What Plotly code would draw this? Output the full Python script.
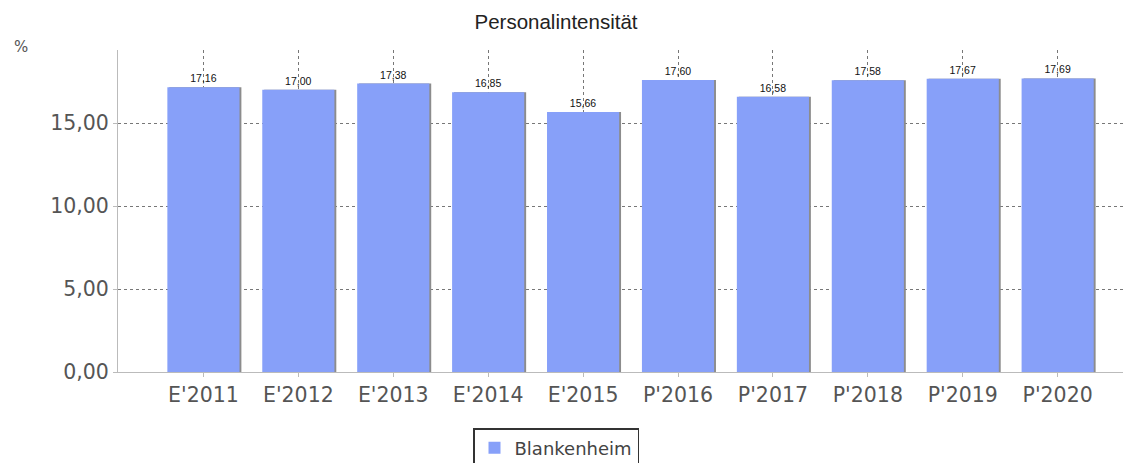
import plotly.graph_objects as go

categories = ["E'2011", "E'2012", "E'2013", "E'2014", "E'2015",
              "P'2016", "P'2017", "P'2018", "P'2019", "P'2020"]
values = [17.16, 17.00, 17.38, 16.85, 15.66, 17.60, 16.58, 17.58, 17.67, 17.69]
series_name = "Blankenheim"
y_ticks = [0, 5, 10, 15]

# page body has an 8px margin, so figure coords = screen coords - 8
OFF = 8
W, H = 1131, 463
L, R, T = 118 - OFF, 13, 50 - OFF
B = H - (372 - OFF)
PW = W - L - R
PH = H - T - B

def px(x):
    return (x - OFF - L) / PW

def py(y):
    return (H - B - (y - OFF)) / PH

fig = go.Figure()
# shadow
fig.add_trace(go.Bar(x=categories, y=values, width=0.76, offset=-0.36,
                     marker=dict(color="#8c8c8c", line=dict(width=0)),
                     showlegend=False, hoverinfo="skip"))
fig.add_trace(go.Bar(x=categories, y=values, width=0.76, offset=-0.38,
                     name=series_name,
                     marker=dict(color="#87a0f9", line=dict(width=0)),
                     texttemplate="%{y:.2f}", textposition="outside",
                     textfont=dict(family="Liberation Sans, Arial", size=10.5, color="#111"),
                     cliponaxis=False))

fig.update_layout(
    width=W, height=H,
    barmode="overlay",
    separators=",.",
    paper_bgcolor="white", plot_bgcolor="white",
    margin=dict(l=L, r=R, t=T, b=B, autoexpand=False),
    title=dict(text="Personalintensität", x=(556 - OFF) / W, xref="container", xanchor="center",
               y=1 - (22 - OFF) / H, yanchor="middle",
               font=dict(family="Liberation Sans, Arial", size=20.5, color="#222")),
    font=dict(family="DejaVu Sans, Verdana", color="#555"),
    xaxis=dict(range=[-0.9, 9.72], showgrid=True, gridcolor="#777", griddash="3px,3px",
               gridwidth=1, showline=True, linecolor="#bbb", linewidth=1,
               ticks="outside", ticklen=4, tickcolor="#bbb", automargin=False,
               tickfont=dict(size=20.5, color="#555")),
    yaxis=dict(range=[0, 19.4], tickvals=y_ticks, tickformat=".2f",
               showgrid=True, gridcolor="#777", griddash="3px,3px", gridwidth=1,
               showline=True, linecolor="#bbb", linewidth=1,
               ticks="outside", ticklen=4, tickcolor="#bbb", automargin=False,
               zeroline=False, tickfont=dict(size=20.5, color="#555")),
    showlegend=True,
    legend=dict(orientation="h", x=px(556), xanchor="center", y=py(428),
                yanchor="top", bordercolor="#333", borderwidth=1.5,
                font=dict(family="DejaVu Sans, Verdana", size=18, color="#444")),
)
fig.add_annotation(text="%", xref="paper", yref="paper",
                   x=px(21), y=py(47), xanchor="center", yanchor="middle",
                   showarrow=False, font=dict(size=15, color="#555"))

fig.write_html("out.html")
